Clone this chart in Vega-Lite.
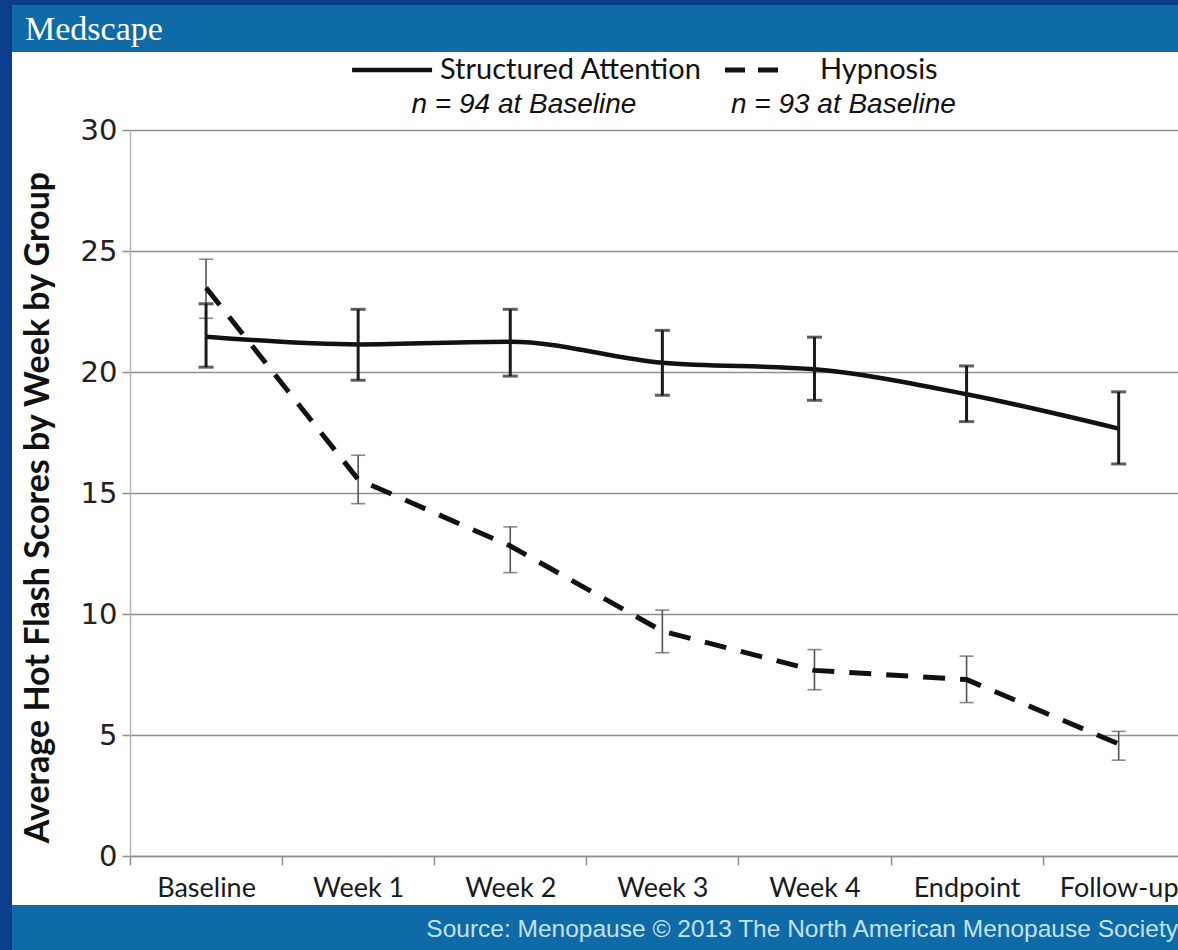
{
  "$schema": "https://vega.github.io/schema/vega-lite/v6.json",
  "background": "#0c3d8c",
  "padding": {"left": 12, "top": 5, "right": 0, "bottom": 0},
  "spacing": 0,
  "config": {"view": {"stroke": null}, "concat": {"spacing": 0}},
  "datasets": {
    "scores": [
      {"group": "Structured Attention", "week": "Baseline", "idx": 0, "mean": 21.46, "lo": 20.2, "hi": 22.82},
      {"group": "Structured Attention", "week": "Week 1", "idx": 1, "mean": 21.14, "lo": 19.66, "hi": 22.59},
      {"group": "Structured Attention", "week": "Week 2", "idx": 2, "mean": 21.25, "lo": 19.83, "hi": 22.59},
      {"group": "Structured Attention", "week": "Week 3", "idx": 3, "mean": 20.38, "lo": 19.04, "hi": 21.72},
      {"group": "Structured Attention", "week": "Week 4", "idx": 4, "mean": 20.11, "lo": 18.83, "hi": 21.44},
      {"group": "Structured Attention", "week": "Endpoint", "idx": 5, "mean": 19.08, "lo": 17.95, "hi": 20.25},
      {"group": "Structured Attention", "week": "Follow-up", "idx": 6, "mean": 17.66, "lo": 16.2, "hi": 19.18},
      {"group": "Hypnosis", "week": "Baseline", "idx": 0, "mean": 23.48, "lo": 22.22, "hi": 24.66},
      {"group": "Hypnosis", "week": "Week 1", "idx": 1, "mean": 15.56, "lo": 14.56, "hi": 16.56},
      {"group": "Hypnosis", "week": "Week 2", "idx": 2, "mean": 12.81, "lo": 11.71, "hi": 13.6},
      {"group": "Hypnosis", "week": "Week 3", "idx": 3, "mean": 9.29, "lo": 8.4, "hi": 10.16},
      {"group": "Hypnosis", "week": "Week 4", "idx": 4, "mean": 7.67, "lo": 6.87, "hi": 8.53},
      {"group": "Hypnosis", "week": "Endpoint", "idx": 5, "mean": 7.29, "lo": 6.34, "hi": 8.26},
      {"group": "Hypnosis", "week": "Follow-up", "idx": 6, "mean": 4.63, "lo": 3.96, "hi": 5.15}
    ],
    "legend": [
      {"group": "Structured Attention", "note": "n = 94 at Baseline"},
      {"group": "Hypnosis", "note": "n = 93 at Baseline"}
    ],
    "brand": [{"name": "Medscape"}],
    "source": [{"text": "Source: Menopause © 2013 The North American Menopause Society"}]
  },
  "vconcat": [
    {
      "width": 1166,
      "height": 47,
      "view": {"fill": "#0f6aa8", "stroke": null},
      "data": {"name": "brand"},
      "mark": {"type": "text", "font": "Liberation Serif", "fontSize": 34, "color": "#ffffff", "align": "left", "baseline": "middle", "dx": 13},
      "encoding": {
        "x": {"datum": 0, "type": "quantitative", "scale": {"domain": [0, 1]}, "axis": null},
        "y": {"datum": 0.47, "type": "quantitative", "scale": {"domain": [0, 1]}, "axis": null},
        "text": {"field": "name"}
      }
    },
    {
      "width": 1166,
      "height": 853,
      "view": {"fill": "#ffffff", "stroke": null},
      "data": {"name": "scores"},
      "layer": [
        {
          "transform": [{"filter": "datum.group === 'Hypnosis'"}],
          "mark": {"type": "rule", "color": "#555555", "strokeWidth": 1.6},
          "encoding": {
            "x": {"field": "idx", "type": "quantitative", "scale": {"domain": [-0.5, 6.39], "range": [118, 1166], "nice": false, "zero": false},
              "axis": {
                "orient": "bottom", "offset": -49, "title": null,
                "values": [-0.5, 0, 0.5, 1, 1.5, 2, 2.5, 3, 3.5, 4, 4.5, 5, 5.5, 6],
                "grid": false,
                "domain": true, "domainColor": "#8f8f8f", "domainWidth": 1.5,
                "ticks": true, "tickSize": 9, "tickColor": "#8f8f8f", "tickWidth": 1.5,
                "tickOpacity": {"condition": {"test": "datum.value % 1 !== 0", "value": 1}, "value": 0},
                "labelExpr": "datum.value % 1 === 0 ? ['Baseline','Week 1','Week 2','Week 3','Week 4','Endpoint','Follow-up'][datum.value] : ''",
                "labelFont": "Lato", "labelFontSize": 27, "labelColor": "#1a1a1a", "labelPadding": 10,
                "labelOverlap": false, "labelFlush": false
              }
            },
            "y": {"field": "lo", "type": "quantitative", "scale": {"domain": [0, 30], "range": [804, 78], "nice": false, "zero": false},
              "axis": {
                "orient": "left", "offset": -118,
                "values": [0, 5, 10, 15, 20, 25, 30],
                "grid": true, "gridColor": "#8f8f8f", "gridWidth": 1.5,
                "domain": true, "domainColor": "#b5b5b5", "domainWidth": 1.5,
                "ticks": true, "tickSize": 8, "tickColor": "#8f8f8f", "tickWidth": 1.5,
                "labelFont": "DejaVu Sans", "labelFontSize": 29, "labelColor": "#222222", "labelPadding": 5,
                "title": "Average Hot Flash Scores by Week by Group",
                "titleFont": "Lato", "titleFontWeight": "bold", "titleFontSize": 34, "titleColor": "#111111",
                "titleAngle": -90, "titleX": -92, "titleY": 455, "titleAlign": "center", "titleBaseline": "middle"
              }
            },
            "y2": {"field": "hi"}
          }
        },
        {
          "transform": [{"filter": "datum.group === 'Hypnosis'"}],
          "mark": {"type": "tick", "orient": "horizontal", "size": 14, "thickness": 1.6, "color": "#555555"},
          "encoding": {"x": {"field": "idx", "type": "quantitative"}, "y": {"field": "lo", "type": "quantitative"}}
        },
        {
          "transform": [{"filter": "datum.group === 'Hypnosis'"}],
          "mark": {"type": "tick", "orient": "horizontal", "size": 14, "thickness": 1.6, "color": "#555555"},
          "encoding": {"x": {"field": "idx", "type": "quantitative"}, "y": {"field": "hi", "type": "quantitative"}}
        },
        {
          "transform": [{"filter": "datum.group === 'Hypnosis'"}],
          "mark": {"type": "line", "interpolate": "linear", "color": "#111111", "strokeWidth": 5, "strokeDash": [22, 15]},
          "encoding": {
            "x": {"field": "idx", "type": "quantitative"},
            "y": {"field": "mean", "type": "quantitative"}
          }
        },
        {
          "transform": [{"filter": "datum.group === 'Structured Attention'"}],
          "mark": {"type": "line", "interpolate": "monotone", "color": "#111111", "strokeWidth": 4.5},
          "encoding": {
            "x": {"field": "idx", "type": "quantitative"},
            "y": {"field": "mean", "type": "quantitative"}
          }
        },
        {
          "transform": [{"filter": "datum.group === 'Structured Attention'"}],
          "mark": {"type": "rule", "color": "#1a1a1a", "strokeWidth": 3},
          "encoding": {"x": {"field": "idx", "type": "quantitative"}, "y": {"field": "lo", "type": "quantitative"}, "y2": {"field": "hi"}}
        },
        {
          "transform": [{"filter": "datum.group === 'Structured Attention'"}],
          "mark": {"type": "tick", "orient": "horizontal", "size": 15, "thickness": 3, "color": "#1a1a1a"},
          "encoding": {"x": {"field": "idx", "type": "quantitative"}, "y": {"field": "lo", "type": "quantitative"}}
        },
        {
          "transform": [{"filter": "datum.group === 'Structured Attention'"}],
          "mark": {"type": "tick", "orient": "horizontal", "size": 15, "thickness": 3, "color": "#1a1a1a"},
          "encoding": {"x": {"field": "idx", "type": "quantitative"}, "y": {"field": "hi", "type": "quantitative"}}
        },
        {
          "data": {"name": "legend"},
          "transform": [{"filter": "datum.group === 'Structured Attention'"}],
          "mark": {"type": "rule", "color": "#111111", "strokeWidth": 4.5},
          "encoding": {"x": {"datum": 0.96}, "x2": {"datum": 1.486}, "y": {"datum": 32.48}}
        },
        {
          "data": {"name": "legend"},
          "transform": [{"filter": "datum.group === 'Structured Attention'"}],
          "mark": {"type": "text", "font": "Lato", "fontSize": 29, "color": "#111111", "align": "left", "baseline": "middle"},
          "encoding": {"x": {"datum": 1.538}, "y": {"datum": 32.48}, "text": {"field": "group"}}
        },
        {
          "data": {"name": "legend"},
          "transform": [{"filter": "datum.group === 'Hypnosis'"}],
          "mark": {"type": "rule", "color": "#111111", "strokeWidth": 5, "strokeDash": [20, 13]},
          "encoding": {"x": {"datum": 3.412}, "x2": {"datum": 3.76}, "y": {"datum": 32.48}}
        },
        {
          "data": {"name": "legend"},
          "transform": [{"filter": "datum.group === 'Hypnosis'"}],
          "mark": {"type": "text", "font": "Lato", "fontSize": 29, "color": "#111111", "align": "left", "baseline": "middle"},
          "encoding": {"x": {"datum": 4.036}, "y": {"datum": 32.48}, "text": {"field": "group"}}
        },
        {
          "data": {"name": "legend"},
          "transform": [{"filter": "datum.group === 'Structured Attention'"}],
          "mark": {"type": "text", "font": "Liberation Sans", "fontStyle": "italic", "fontSize": 28, "color": "#111111", "align": "center", "baseline": "middle"},
          "encoding": {"x": {"datum": 2.09}, "y": {"datum": 31.03}, "text": {"field": "note"}}
        },
        {
          "data": {"name": "legend"},
          "transform": [{"filter": "datum.group === 'Hypnosis'"}],
          "mark": {"type": "text", "font": "Liberation Sans", "fontStyle": "italic", "fontSize": 28, "color": "#111111", "align": "center", "baseline": "middle"},
          "encoding": {"x": {"datum": 4.19}, "y": {"datum": 31.03}, "text": {"field": "note"}}
        }
      ]
    },
    {
      "width": 1166,
      "height": 45,
      "view": {"fill": "#0f6aa8", "stroke": null},
      "data": {"name": "source"},
      "mark": {"type": "text", "font": "Liberation Sans", "fontSize": 24.5, "color": "#c4e2f6", "align": "right", "baseline": "middle"},
      "encoding": {
        "x": {"datum": 1, "type": "quantitative", "scale": {"domain": [0, 1]}, "axis": null},
        "y": {"datum": 0.45, "type": "quantitative", "scale": {"domain": [0, 1]}, "axis": null},
        "text": {"field": "text"}
      }
    }
  ]
}
